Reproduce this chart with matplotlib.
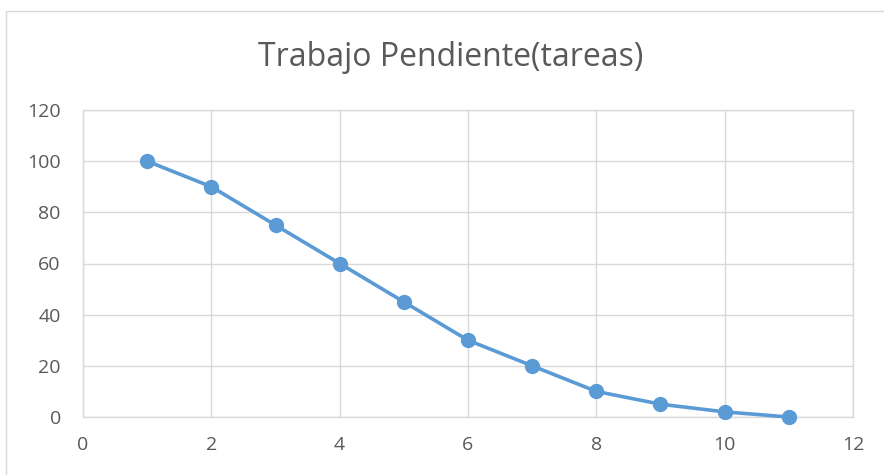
import matplotlib
matplotlib.use("Agg")
import matplotlib.pyplot as plt
from matplotlib.patches import Rectangle

x_vals = [1, 2, 3, 4, 5, 6, 7, 8, 9, 10, 11]
y_vals = [100, 90, 75, 60, 45, 30, 20, 10, 5, 2, 0]
x_ticks = [0, 2, 4, 6, 8, 10, 12]
y_ticks = [0, 20, 40, 60, 80, 100, 120]
title = "Trabajo Pendiente(tareas)"

plt.rcParams['font.family'] = ['Open Sans', 'DejaVu Sans']

fig = plt.figure(figsize=(8.84, 4.75), dpi=100)
fig.patches.append(Rectangle((6/884, -0.05), 1.0, 1 - 11/475 + 0.05,
                             transform=fig.transFigure, fill=False,
                             edgecolor='#D9D9D9', linewidth=1.0))
ax = fig.add_axes([83/884, 1 - 417/475, (853-83)/884, (417-110)/475])
ax.plot(x_vals, y_vals, color='#5B9BD5', linewidth=2.6, marker='o',
        markersize=10, zorder=3, clip_on=False)
ax.set_xlim(0, 12)
ax.set_ylim(0, 120)
ax.set_xticks(x_ticks)
ax.set_yticks(y_ticks)
ax.grid(True, color='#D9D9D9', linewidth=1.0)
ax.set_axisbelow(True)
for s in ax.spines.values():
    s.set_color('#D9D9D9')
    s.set_linewidth(1.0)
ax.tick_params(length=0, labelsize=14, labelcolor='#595959')
ax.tick_params(axis='y', pad=16)
ax.tick_params(axis='x', pad=14)
fig.text(451/884, 1 - 57/475, title, ha='center', va='center',
         fontsize=23, color='#595959')
fig.savefig('out.png', dpi=100)
